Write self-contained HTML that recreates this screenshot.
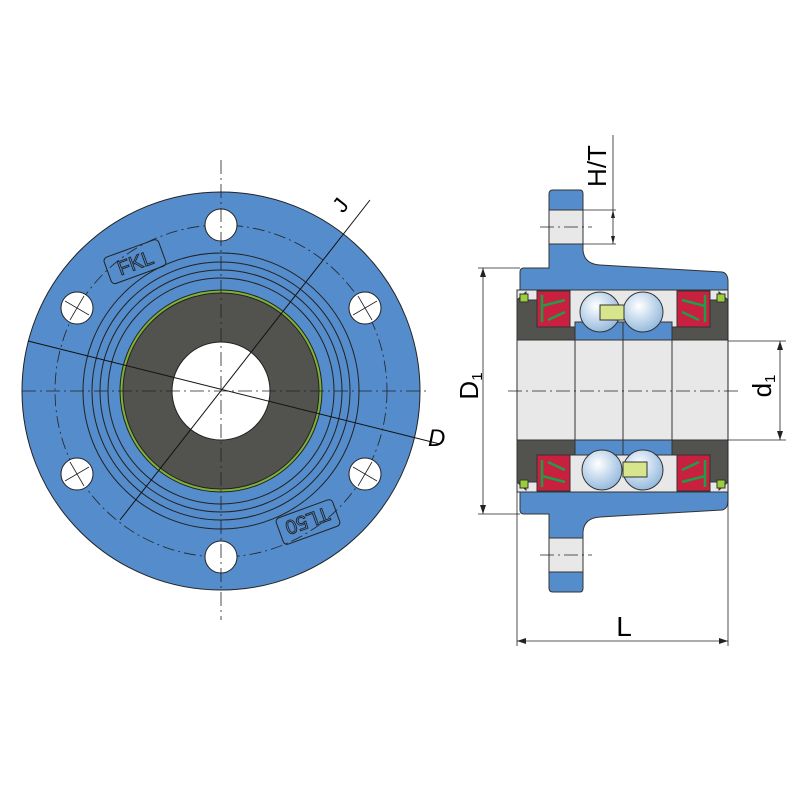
<!DOCTYPE html>
<html><head><meta charset="utf-8"><style>
html,body{margin:0;padding:0;background:#fff}
svg{display:block}
text{font-family:"Liberation Sans",sans-serif}
</style></head><body>
<svg width="800" height="800" viewBox="0 0 800 800" xmlns="http://www.w3.org/2000/svg">
<defs>
<radialGradient id="ball" cx="0.4" cy="0.35" r="0.7">
<stop offset="0" stop-color="#ffffff"/><stop offset="1" stop-color="#8fb6dc"/>
</radialGradient>
</defs>
<g stroke="#222" stroke-width="1">
<circle cx="221" cy="391" r="199" fill="#558ccb"/>
<circle cx="221" cy="391" r="138" fill="none"/>
<circle cx="221" cy="391" r="129" fill="none"/>
<circle cx="221" cy="391" r="121" fill="none"/>
<circle cx="221" cy="391" r="113" fill="none"/>
<circle cx="221" cy="391" r="101" fill="#7fb13a"/>
<circle cx="221" cy="391" r="98" fill="#52534f"/>
<circle cx="221" cy="391" r="49" fill="#fff"/>
</g>
<circle cx="221" cy="391" r="166" fill="none" stroke="#222" stroke-width="0.8" stroke-dasharray="12,4,2,4"/>
<g stroke="#222" stroke-width="1" fill="#fff">
<circle cx="221" cy="225" r="16"/><circle cx="221" cy="557" r="16"/>
<circle cx="77" cy="308" r="16"/><circle cx="365" cy="308" r="16"/>
<circle cx="77" cy="474" r="16"/><circle cx="365" cy="474" r="16"/>
</g>
<g stroke="#222" stroke-width="0.8">
<line x1="65" y1="301" x2="89" y2="315"/><line x1="70" y1="320" x2="84" y2="296"/>
<line x1="353" y1="315" x2="377" y2="301"/><line x1="358" y1="296" x2="372" y2="320"/>
<line x1="65" y1="481" x2="89" y2="467"/><line x1="70" y1="462" x2="84" y2="486"/>
<line x1="353" y1="467" x2="377" y2="481"/><line x1="358" y1="486" x2="372" y2="462"/>
</g>
<g stroke="#222" stroke-width="0.8" stroke-dasharray="14,4,2,4">
<line x1="221" y1="160" x2="221" y2="620"/>
<line x1="22" y1="391" x2="430" y2="391"/>
</g>
<g stroke="#111" stroke-width="1">
<line x1="28" y1="341" x2="440" y2="444"/>
<line x1="120" y1="520" x2="370" y2="200"/>
</g>
<text x="428" y="446" font-size="24" font-style="italic">D</text>
<text x="343" y="214" font-size="22" transform="rotate(-52 343 214)">J</text>
<g transform="rotate(-20 134 262)">
<rect x="106" y="248" width="58" height="28" rx="4" fill="none" stroke="#222"/>
<text x="135" y="270" font-size="20" text-anchor="middle" fill="none" stroke="#222" stroke-width="0.9">FKL</text>
</g>
<g transform="rotate(160 308 522)">
<rect x="278" y="508" width="60" height="28" rx="4" fill="none" stroke="#222"/>
<text x="308" y="530" font-size="20" text-anchor="middle" fill="none" stroke="#222" stroke-width="0.9">TL50</text>
</g>

<g stroke="#333" stroke-width="1">
<path d="M549 194 Q549 190 553 190 L580 190 Q583 190 583 194 L583 250 Q584 264 600 265 L722 272 Q728 273 728 282 L728 292 L520 292 L520 272 Q520 268 524 268 L549 268 Z" fill="#558ccb"/>
<path d="M549 588 Q549 592 553 592 L580 592 Q583 592 583 588 L583 532 Q584 518 600 517 L722 510 Q728 509 728 500 L728 490 L520 490 L520 510 Q520 514 524 514 L549 514 Z" fill="#558ccb"/>
<rect x="549" y="210" width="34" height="34" fill="#e8e8e8"/>
<rect x="549" y="538" width="34" height="34" fill="#e8e8e8"/>
<rect x="517" y="290" width="211" height="50" fill="#e8e8e8"/>
<rect x="517" y="440" width="211" height="52" fill="#e8e8e8"/>
<path d="M517 300 L526 292 L526 300 L537 300 L537 327 L575 327 L575 340 L517 340 Z" fill="#52534f"/>
<path d="M728 300 L719 292 L719 300 L708 300 L708 327 L672 327 L672 340 L728 340 Z" fill="#52534f"/>
<path d="M517 482 L526 490 L526 482 L537 482 L537 455 L575 455 L575 440 L517 440 Z" fill="#52534f"/>
<path d="M728 482 L719 490 L719 482 L708 482 L708 455 L672 455 L672 440 L728 440 Z" fill="#52534f"/>
<rect x="537" y="291" width="33" height="36" fill="#c8203e"/>
<rect x="677" y="291" width="33" height="36" fill="#c8203e"/>
<rect x="537" y="455" width="33" height="36" fill="#c8203e"/>
<rect x="677" y="455" width="33" height="36" fill="#c8203e"/>
<rect x="575" y="322" width="97" height="18" fill="#558ccb"/>
<rect x="575" y="440" width="97" height="15" fill="#558ccb"/>
<rect x="517" y="340" width="211" height="100" fill="#e8e8e8"/>
<line x1="575" y1="340" x2="575" y2="440"/><line x1="623" y1="322" x2="623" y2="455"/><line x1="672" y1="340" x2="672" y2="440"/>
<circle cx="600" cy="312" r="20" fill="url(#ball)"/>
<circle cx="643" cy="312" r="20" fill="url(#ball)"/>
<circle cx="602" cy="470" r="20" fill="url(#ball)"/>
<circle cx="643" cy="470" r="20" fill="url(#ball)"/>
<rect x="600" y="305" width="24" height="15" fill="#d7e58c"/>
<rect x="623" y="462" width="24" height="15" fill="#d7e58c"/>
<rect x="520" y="294" width="8" height="8" fill="#9bcf3a"/>
<rect x="717" y="294" width="8" height="8" fill="#9bcf3a"/>
<rect x="520" y="480" width="8" height="8" fill="#9bcf3a"/>
<rect x="717" y="480" width="8" height="8" fill="#9bcf3a"/>
</g>
<g stroke="#1e9e4a" stroke-width="2.5" fill="none">
<path d="M542 295 L542 322 M542 306 L565 300 M548 320 L565 312"/>
<path d="M705 295 L705 322 M705 306 L682 300 M699 320 L682 312"/>
<path d="M542 487 L542 460 M542 476 L565 482 M548 462 L565 470"/>
<path d="M705 487 L705 460 M705 476 L682 482 M699 462 L682 470"/>
</g>
<g stroke="#222" stroke-width="0.8" stroke-dasharray="14,4,2,4">
<line x1="508" y1="391" x2="738" y2="391"/>
<line x1="540" y1="227" x2="592" y2="227"/>
<line x1="540" y1="555" x2="592" y2="555"/>
</g>
<g stroke="#222" stroke-width="0.8" fill="none">
<line x1="478" y1="268" x2="520" y2="268"/><line x1="478" y1="514" x2="520" y2="514"/>
<line x1="483" y1="268" x2="483" y2="514"/>
<line x1="728" y1="341" x2="786" y2="341"/><line x1="728" y1="440" x2="786" y2="440"/>
<line x1="780" y1="341" x2="780" y2="440"/>
<line x1="517" y1="492" x2="517" y2="646"/><line x1="728" y1="292" x2="728" y2="646"/>
<line x1="517" y1="641" x2="728" y2="641"/>
<line x1="583" y1="210" x2="616" y2="210"/><line x1="583" y1="244" x2="616" y2="244"/>
<line x1="613" y1="135" x2="613" y2="244"/>
</g>
<g fill="#222">
<path d="M483 268 l-3 9 h6z"/><path d="M483 514 l-3 -9 h6z"/>
<path d="M780 341 l-3 9 h6z"/><path d="M780 440 l-3 -9 h6z"/>
<path d="M517 641 l9 -3 v6z"/><path d="M728 641 l-9 -3 v6z"/>
<path d="M613 210 l-2 8 h4z"/><path d="M613 244 l-2 -8 h4z"/>
</g>
<text x="483" y="391" font-size="26" text-anchor="middle" transform="rotate(-90 478 391)">D<tspan font-size="15" dy="4">1</tspan></text>
<text x="776" y="391" font-size="26" text-anchor="middle" transform="rotate(-90 771 391)">d<tspan font-size="15" dy="4">1</tspan></text>
<text x="624" y="636" font-size="28" text-anchor="middle">L</text>
<text x="606" y="166" font-size="26" text-anchor="middle" transform="rotate(-90 606 166)">H/T</text>
</svg>
</body></html>
